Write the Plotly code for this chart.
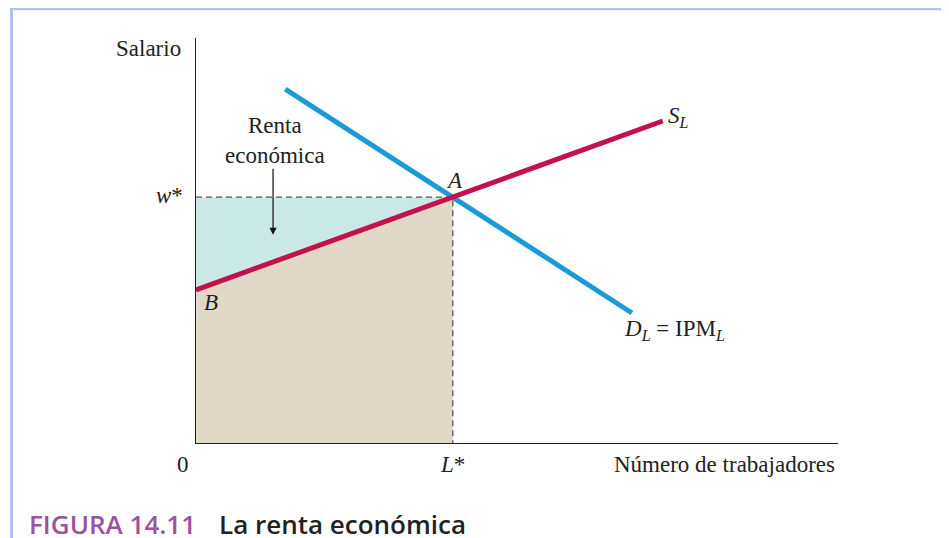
import plotly.graph_objects as go

# valores (unidades arbitrarias)
supply_x = [0, 4.0, 7.27]
supply_y = [3.78, 6.07, 7.95]
demand_x = [1.39, 6.79]
demand_y = [8.74, 3.21]
L_star = 4.0
w_star = 6.07

serif = "Liberation Serif"
blue = "#1b9ad8"
red = "#c4104c"

fig = go.Figure()

# renta económica (área entre w* y la oferta)
fig.add_trace(go.Scatter(x=[0, 0, L_star, 0], y=[supply_y[0], w_star, w_star, supply_y[0]],
                         fill="toself", fillcolor="#cae8e5", line=dict(width=0),
                         mode="lines", hoverinfo="skip"))
# área bajo la oferta
fig.add_trace(go.Scatter(x=[0, 0, L_star, L_star, 0], y=[0, supply_y[0], w_star, 0, 0],
                         fill="toself", fillcolor="#e0d9c7", line=dict(width=0),
                         mode="lines", hoverinfo="skip"))
# líneas discontinuas
fig.add_trace(go.Scatter(x=[0, L_star, L_star], y=[w_star, w_star, 0], mode="lines",
                         line=dict(color="#555555", width=1.3, dash="6px,4px"), hoverinfo="skip"))
fig.add_trace(go.Scatter(x=demand_x, y=demand_y, mode="lines",
                         line=dict(color=blue, width=5), hoverinfo="skip"))
fig.add_trace(go.Scatter(x=supply_x, y=supply_y, mode="lines",
                         line=dict(color=red, width=5), hoverinfo="skip"))

def label(x, y, text, size=23, xanchor="center", xref="x", yref="y", color="#222", family=serif):
    fig.add_annotation(x=x, y=y, xref=xref, yref=yref, text=text, showarrow=False,
                       xanchor=xanchor, yanchor="middle",
                       font=dict(family=family, size=size, color=color))

# textos fuera del área de trazado (coordenadas de papel)
label(-0.02, 0.975, "Salario", xanchor="right", xref="paper", yref="paper")
label(-0.017, 0.612, "<i>w</i>*", xanchor="right", xref="paper", yref="paper")
label(-0.0202, -0.054, "0", xref="paper", yref="paper")
label(0.4003, -0.054, "<i>L</i>*", xref="paper", yref="paper")
label(0.9984, -0.054, "Número de trabajadores", xanchor="right", xref="paper", yref="paper")

label(1.23, 7.46, "Renta<br>económica")
label(4.03, 6.49, "<i>A</i>")
label(0.23, 3.46, "<i>B</i>")
label(7.52, 8.05, "<i>S</i><sub><i>L</i></sub>")
label(7.46, 2.79, "<i>D</i><sub><i>L</i></sub> = IPM<sub><i>L</i></sub>")

fig.add_annotation(x=1.2, y=5.14, ax=1.2, ay=6.81, xref="x", yref="y", axref="x", ayref="y",
                   showarrow=True, arrowhead=2, arrowsize=1.2, arrowwidth=1.2, arrowcolor="#111", text="")

# título de la figura
fig.add_annotation(x=-0.2632, y=-0.2, xref="paper", yref="paper", xanchor="left", yanchor="middle",
                   showarrow=False, text="FIGURA 14.11",
                   font=dict(family="Open Sans", size=26, color="#9d52a0", weight=600))
fig.add_annotation(x=0.0327, y=-0.2, xref="paper", yref="paper", xanchor="left", yanchor="middle",
                   showarrow=False, text="La renta económica",
                   font=dict(family="Open Sans", size=26, color="#222", weight=600))

# marco
fig.add_shape(type="rect", xref="paper", yref="paper", x0=-0.2874, x1=1.168, y0=-0.32, y1=1.072,
              line=dict(color="#b0c4ea", width=3))

fig.update_layout(
    width=949, height=538,
    margin=dict(l=188, r=119, t=30, b=103),
    paper_bgcolor="white", plot_bgcolor="white",
    showlegend=False,
    xaxis=dict(range=[0, 10], showgrid=False, zeroline=False, showticklabels=False,
               showline=True, linecolor="#222", linewidth=1.3, ticks=""),
    yaxis=dict(range=[0, 10], showgrid=False, zeroline=False, showticklabels=False,
               showline=True, linecolor="#222", linewidth=1.3, ticks=""),
)

fig.write_html("out.html")
